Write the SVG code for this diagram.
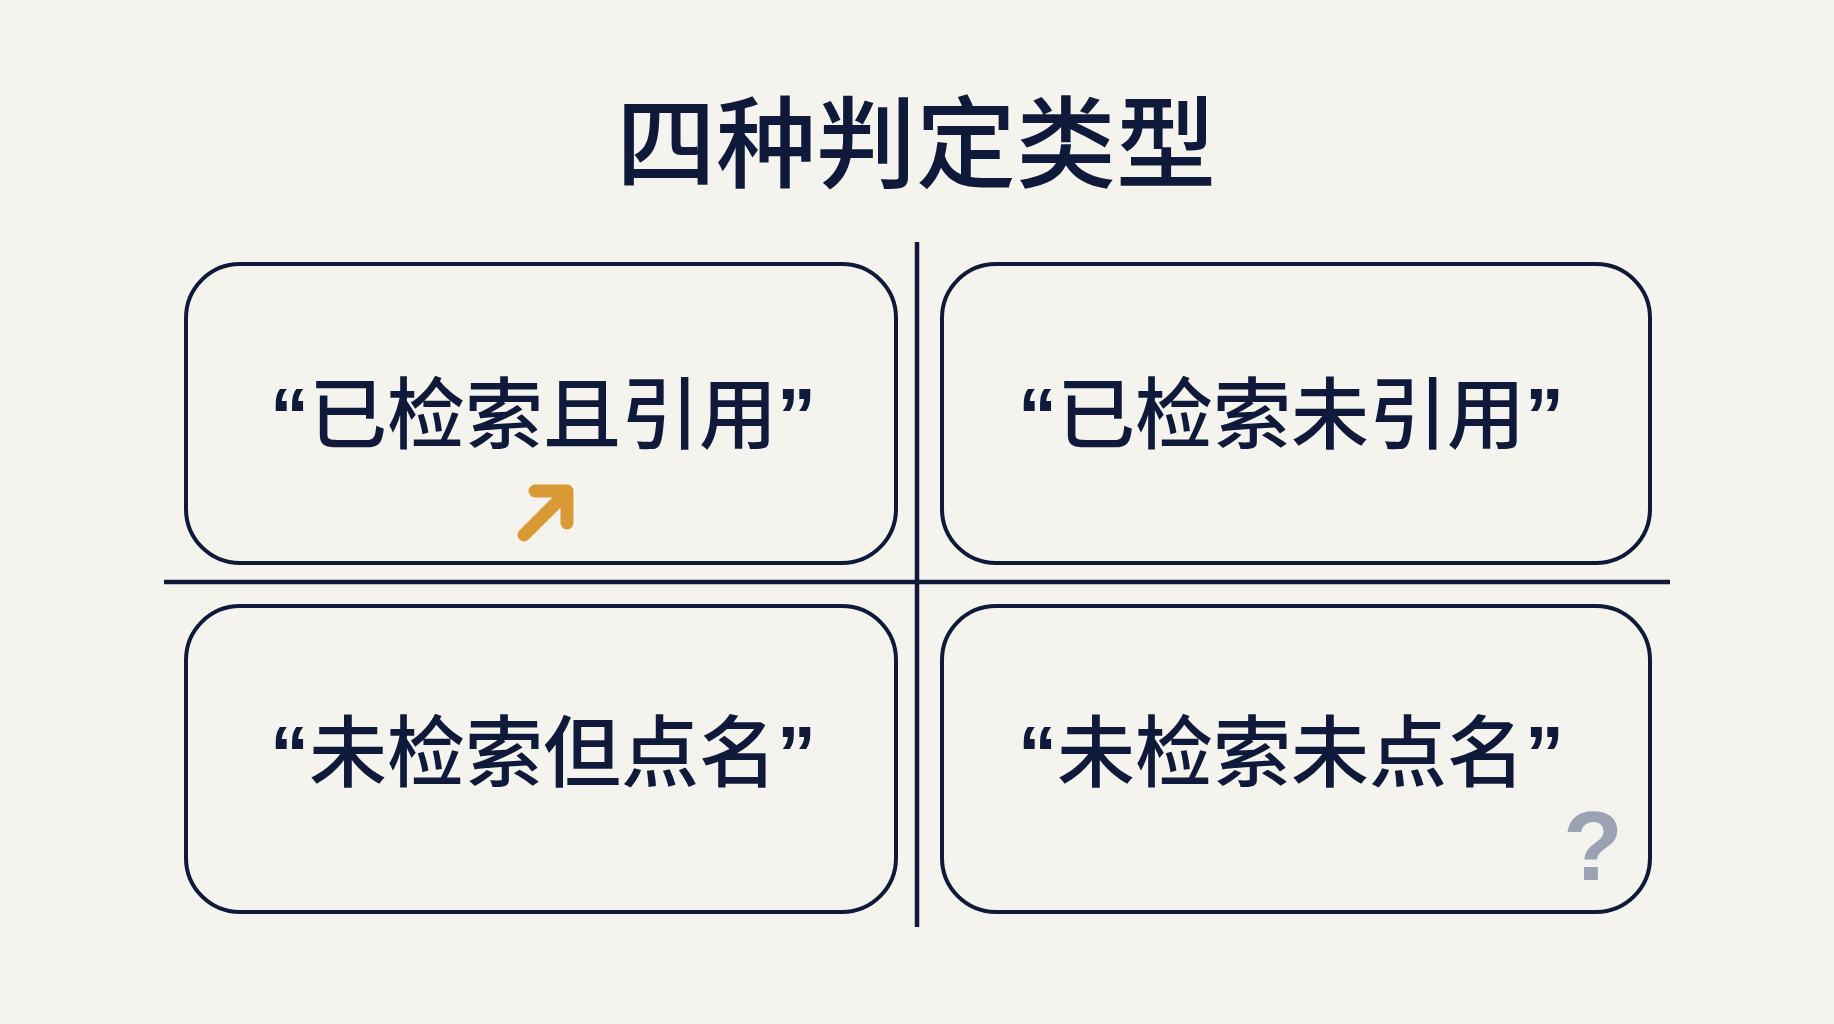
<svg xmlns="http://www.w3.org/2000/svg" width="1834" height="1024" viewBox="0 0 1834 1024">
  <style>
    .bg { fill: #f4f3ee; }
    .box { fill: none; stroke: #0f1a3a; stroke-width: 4; }
    .div { stroke: #0f1a3a; stroke-width: 4.5; fill: none; }
    .title { font-family: "Liberation Sans", "Noto Sans CJK SC", sans-serif; font-size: 100px; font-weight: 500; fill: #0f1a3a; text-anchor: middle; }
    .label { font-family: "Liberation Sans", "Noto Sans CJK SC", sans-serif; font-size: 78px; font-weight: 500; fill: #0f1a3a; text-anchor: middle; }
    .qm { font-weight: 700; }
    .q { font-family: "Liberation Sans", sans-serif; font-size: 98px; font-weight: 700; fill: #9aa2b4; text-anchor: middle; }
    .arrow { stroke: #d99a36; stroke-width: 13; stroke-linecap: round; stroke-linejoin: round; fill: none; }
  </style>
  <rect class="bg" x="0" y="0" width="1834" height="1024"/>
  <g id="title">
    <text class="title" x="916" y="180">四种判定类型</text>
  </g>
  <g id="connectors">
    <line class="div" x1="917" y1="242" x2="917" y2="927"/>
    <line class="div" x1="164" y1="582" x2="1670" y2="582"/>
  </g>
  <g id="retrieved-cited">
    <rect class="box" x="186" y="264" width="710" height="299" rx="54" ry="54"/>
    <text class="label" x="543" y="443"><tspan class="qm">“</tspan>已检索且引用<tspan class="qm">”</tspan></text>
    <line class="arrow" x1="524" y1="535" x2="565" y2="494"/>
    <polyline class="arrow" points="535,491 567,491 567,523"/>
  </g>
  <g id="retrieved-not-cited">
    <rect class="box" x="942" y="264" width="708" height="299" rx="54" ry="54"/>
    <text class="label" x="1291" y="443"><tspan class="qm">“</tspan>已检索未引用<tspan class="qm">”</tspan></text>
  </g>
  <g id="not-retrieved-named">
    <rect class="box" x="186" y="606" width="710" height="306" rx="54" ry="54"/>
    <text class="label" x="543" y="781"><tspan class="qm">“</tspan>未检索但点名<tspan class="qm">”</tspan></text>
  </g>
  <g id="not-retrieved-not-named">
    <rect class="box" x="942" y="606" width="708" height="306" rx="54" ry="54"/>
    <text class="label" x="1291" y="781"><tspan class="qm">“</tspan>未检索未点名<tspan class="qm">”</tspan></text>
    <text class="q" x="1593" y="880">?</text>
  </g>
</svg>
